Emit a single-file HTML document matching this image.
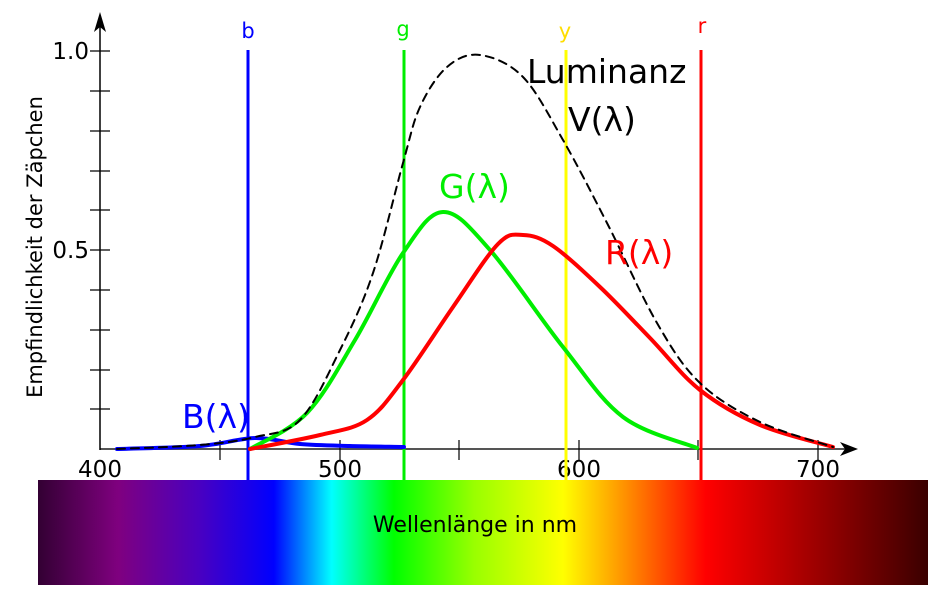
<!DOCTYPE html>
<html><head><meta charset="utf-8"><style>
html,body{margin:0;padding:0;background:#fff;}
svg{display:block;font-family:"DejaVu Sans","Liberation Sans",sans-serif;}
</style></head><body>
<svg id="s" width="942" height="594" viewBox="0 0 942 594">
<defs>
<linearGradient id="sp" x1="38" x2="928" y1="0" y2="0" gradientUnits="userSpaceOnUse">
<stop offset="0" stop-color="#330033"/>
<stop offset="0.09" stop-color="#7f007f"/>
<stop offset="0.18" stop-color="#4a00c0"/>
<stop offset="0.265" stop-color="#0000ff"/>
<stop offset="0.33" stop-color="#00ffff"/>
<stop offset="0.4" stop-color="#00ff00"/>
<stop offset="0.49" stop-color="#99ff00"/>
<stop offset="0.59" stop-color="#ffff00"/>
<stop offset="0.68" stop-color="#ff7000"/>
<stop offset="0.75" stop-color="#ff0000"/>
<stop offset="0.84" stop-color="#b80000"/>
<stop offset="1" stop-color="#3a0000"/>
</linearGradient>
</defs>
<rect x="38" y="480" width="890" height="105" fill="url(#sp)"/>
<text x="475" y="532" font-size="22" text-anchor="middle" fill="#000">Wellenlänge in nm</text>
<line x1="100" y1="449" x2="848" y2="449" stroke="#555" stroke-width="2"/>
<path d="M858,449 L840,442 L845,449 L840,456 Z" fill="#000"/>
<line x1="100" y1="450" x2="100" y2="22" stroke="#000" stroke-width="1.5"/>
<path d="M100,12 L94,32 L100,27 L106,32 Z" fill="#000"/>
<g stroke="#000" stroke-width="1.2">
<line x1="90" y1="51" x2="110" y2="51"/><line x1="90" y1="91" x2="110" y2="91"/>
<line x1="90" y1="131" x2="110" y2="131"/><line x1="90" y1="171" x2="110" y2="171"/>
<line x1="90" y1="210" x2="110" y2="210"/><line x1="90" y1="250" x2="110" y2="250"/>
<line x1="90" y1="290" x2="110" y2="290"/><line x1="90" y1="330" x2="110" y2="330"/>
<line x1="90" y1="370" x2="110" y2="370"/><line x1="90" y1="409" x2="110" y2="409"/>
<line x1="220" y1="440" x2="220" y2="460"/><line x1="340" y1="440" x2="340" y2="460"/>
<line x1="459" y1="440" x2="459" y2="460"/><line x1="579" y1="440" x2="579" y2="460"/>
<line x1="698" y1="440" x2="698" y2="460"/><line x1="818" y1="440" x2="818" y2="460"/>
</g>
<g font-size="23" fill="#000">
<text x="89" y="59" text-anchor="end">1.0</text>
<text x="89" y="258" text-anchor="end">0.5</text>
<text x="100" y="477" text-anchor="middle">400</text>
<text x="340" y="477" text-anchor="middle">500</text>
<text x="579" y="477" text-anchor="middle">600</text>
<text x="818" y="477" text-anchor="middle">700</text>
</g>
<text transform="translate(42,247) rotate(-90)" font-size="21" text-anchor="middle" fill="#000">Empfindlichkeit der Zäpchen</text>
<line x1="248" y1="50" x2="248" y2="480" stroke="#0000ff" stroke-width="3"/>
<line x1="404" y1="50" x2="404" y2="480" stroke="#00ee00" stroke-width="3"/>
<line x1="566" y1="50" x2="566" y2="480" stroke="#ffff00" stroke-width="3"/>
<line x1="701" y1="50" x2="701" y2="480" stroke="#ff0000" stroke-width="3"/>
<g font-size="21" text-anchor="middle">
<text x="248" y="38" fill="#0000ff">b</text>
<text x="403" y="36" fill="#00ee00">g</text>
<text x="565" y="38" fill="#ffdd00">y</text>
<text x="702" y="33" fill="#ff0000">r</text>
</g>
<g id="curves" fill="none" stroke-linecap="round" stroke-linejoin="round"></g>
<g font-size="33">
<text x="527" y="83" fill="#000">Luminanz</text>
<text x="568" y="131" fill="#000">V(λ)</text>
<text x="439" y="198" fill="#00ee00">G(λ)</text>
<text x="605" y="264" fill="#ff0000">R(λ)</text>
<text x="182" y="428" fill="#0000ff">B(λ)</text>
</g>
</svg>
<script>
function cr(p){var d="M"+p[0][0]+","+p[0][1];for(var i=0;i<p.length-1;i++){var a=p[i-1]||p[i],b=p[i],c=p[i+1],e=p[i+2]||c;
d+=" C"+(b[0]+(c[0]-a[0])/6).toFixed(1)+","+(b[1]+(c[1]-a[1])/6).toFixed(1)+" "+(c[0]-(e[0]-b[0])/6).toFixed(1)+","+(c[1]-(e[1]-b[1])/6).toFixed(1)+" "+c[0]+","+c[1];}return d;}
var g=document.getElementById("curves"),NS="http://www.w3.org/2000/svg";
function add(p,col,w,dash){var e=document.createElementNS(NS,"path");e.setAttribute("d",cr(p));e.setAttribute("stroke",col);e.setAttribute("stroke-width",w);if(dash)e.setAttribute("stroke-dasharray",dash);g.appendChild(e);}
add([[117,449],[200,446],[255,438],[300,444],[350,446],[404,447]],"#0000ff",4);
add([[250,449],[307,413],[355,340],[403,253],[443,212],[490,250],[563,347],[623,417],[697,448]],"#00ee00",4);
add([[250,449],[320,435],[367,420],[403,380],[453,307],[498,244],[523,235],[553,246],[600,287],[650,338],[700,390],[760,425],[833,447]],"#ff0000",4);
add([[117,449],[200,445],[255,437],[300,420],[340,350],[373,273],[403,163],[420,107],[447,67],[480,55],[523,77],[563,140],[607,223],[657,323],[700,383],[760,422],[833,447]],"#000",2,"8,6");
</script>
</body></html>
